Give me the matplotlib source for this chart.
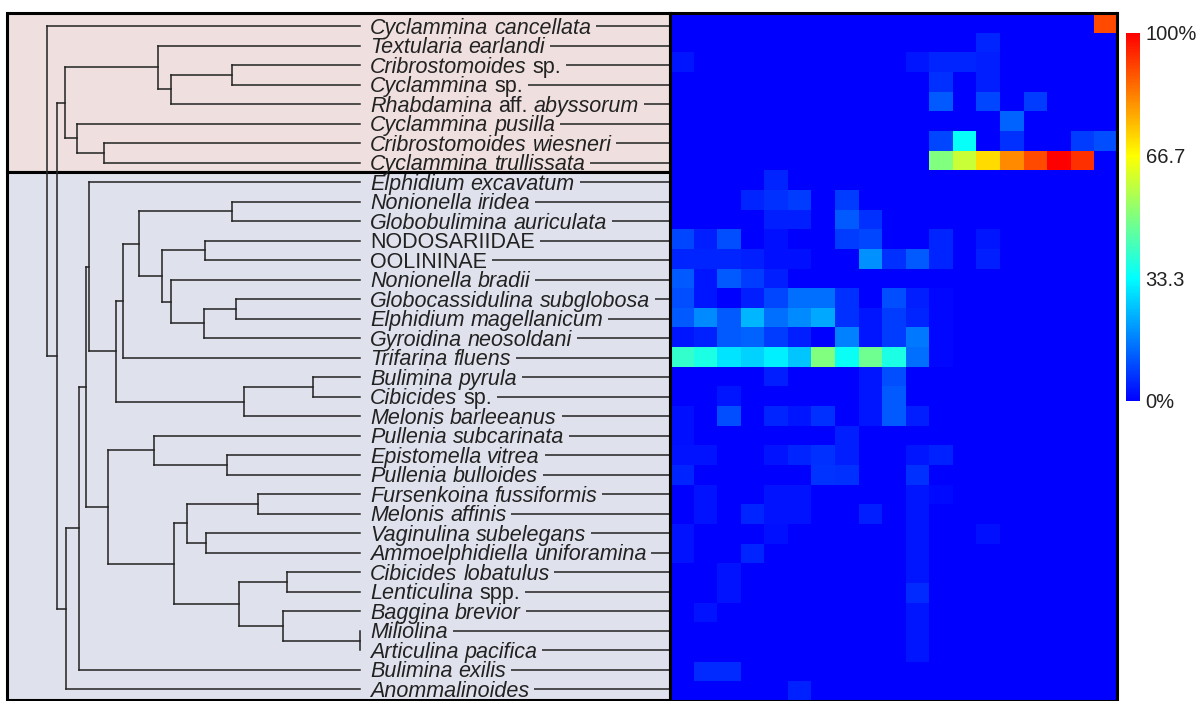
import numpy as np
import matplotlib
matplotlib.use("Agg")
import matplotlib.pyplot as plt
from matplotlib.colors import LinearSegmentedColormap
from matplotlib.collections import LineCollection
from matplotlib.patches import Rectangle
from matplotlib.transforms import offset_copy

plt.rcParams['font.family'] = ['Liberation Sans', 'DejaVu Sans']

# species in plotting order (top to bottom)
species = [
    "Cyclammina cancellata", "Textularia earlandi", "Cribrostomoides sp.",
    "Cyclammina sp.", "Rhabdamina aff. abyssorum", "Cyclammina pusilla",
    "Cribrostomoides wiesneri", "Cyclammina trullissata",
    "Elphidium excavatum", "Nonionella iridea", "Globobulimina auriculata",
    "NODOSARIIDAE", "OOLININAE", "Nonionella bradii",
    "Globocassidulina subglobosa", "Elphidium magellanicum",
    "Gyroidina neosoldani", "Trifarina fluens", "Bulimina pyrula",
    "Cibicides sp.", "Melonis barleeanus", "Pullenia subcarinata",
    "Epistomella vitrea", "Pullenia bulloides", "Fursenkoina fussiformis",
    "Melonis affinis", "Vaginulina subelegans", "Ammoelphidiella uniforamina",
    "Cibicides lobatulus", "Lenticulina spp.", "Baggina brevior",
    "Miliolina", "Articulina pacifica", "Bulimina exilis", "Anommalinoides",
]
upright_words = {"sp.", "spp.", "aff.", "NODOSARIIDAE", "OOLININAE"}
n_agglutinated = 8  # first group (pink box)

# dendrogram: (height, left, right), leaves are species names
tree = (1.000, "Cyclammina cancellata",
        (0.967,
         (0.942,
          (0.644, "Textularia earlandi",
           (0.604, (0.410, "Cribrostomoides sp.", "Cyclammina sp."),
            "Rhabdamina aff. abyssorum")),
          (0.903, "Cyclammina pusilla",
           (0.817, "Cribrostomoides wiesneri", "Cyclammina trullissata"))),
         (0.938,
          (0.899,
           (0.875,
            (0.865, "Elphidium excavatum",
             (0.780,
              (0.758,
               (0.705,
                (0.408, "Nonionella iridea", "Globobulimina auriculata"),
                (0.634,
                 (0.494, "NODOSARIIDAE", "OOLININAE"),
                 (0.605, "Nonionella bradii",
                  (0.497,
                   (0.396, "Globocassidulina subglobosa", "Elphidium magellanicum"),
                   "Gyroidina neosoldani")))),
               "Trifarina fluens"),
              (0.371, (0.149, "Bulimina pyrula", "Cibicides sp."),
               "Melonis barleeanus"))),
            (0.806,
             (0.659, "Pullenia subcarinata",
              (0.425, "Epistomella vitrea", "Pullenia bulloides")),
             (0.595,
              (0.554,
               (0.326, "Fursenkoina fussiformis", "Melonis affinis"),
               (0.493, "Vaginulina subelegans", "Ammoelphidiella uniforamina")),
              (0.387,
               (0.232, "Cibicides lobatulus", "Lenticulina spp."),
               (0.247, "Baggina brevior",
                (0.0, "Miliolina", "Articulina pacifica")))))),
           "Bulimina exilis"),
          "Anommalinoides")))

# relative abundance per species (rows) and sample (columns), 0-1
abundance = [
    [0, 0, 0, 0, 0, 0, 0, 0, 0, 0, 0, 0, 0, 0, 0, 0, 0, 0, .90],
    [0, 0, 0, 0, 0, 0, 0, 0, 0, 0, 0, 0, 0, .05, 0, 0, 0, 0, 0],
    [.03, 0, 0, 0, 0, 0, 0, 0, 0, 0, .03, .05, .05, .04, 0, 0, 0, 0, 0],
    [0, 0, 0, 0, 0, 0, 0, 0, 0, 0, 0, .065, 0, .04, 0, 0, 0, 0, 0],
    [0, 0, 0, 0, 0, 0, 0, 0, 0, 0, 0, .12, 0, .09, 0, .08, 0, 0, 0],
    [0, 0, 0, 0, 0, 0, 0, 0, 0, 0, 0, 0, 0, 0, .13, 0, 0, 0, 0],
    [0, 0, 0, 0, 0, 0, 0, 0, 0, 0, 0, .09, .34, 0, .065, 0, 0, .08, .105],
    [0, 0, 0, 0, 0, 0, 0, 0, 0, 0, 0, .50, .595, .712, .817, .902, 1.0, .935, 0],
    [0, 0, 0, 0, .05, 0, 0, 0, 0, 0, 0, 0, 0, 0, 0, 0, 0, 0, 0],
    [0, 0, 0, .05, .065, .08, 0, .08, 0, 0, 0, 0, 0, 0, 0, 0, 0, 0, 0],
    [0, 0, 0, 0, .04, .04, 0, .12, .065, 0, 0, 0, 0, 0, 0, 0, 0, 0, 0],
    [.09, .04, .105, 0, .02, 0, 0, .08, .09, 0, 0, .05, 0, .03, 0, 0, 0, 0, 0],
    [.05, .05, .05, .04, .02, .02, 0, 0, .19, .065, .12, .05, 0, .04, 0, 0, 0, 0, 0],
    [.12, .03, .12, .08, .04, 0, 0, 0, 0, 0, 0, 0, 0, 0, 0, 0, 0, 0, 0],
    [.105, .03, 0, .04, .09, .145, .145, .065, 0, .105, .04, .01, 0, 0, 0, 0, 0, 0, 0],
    [.12, .18, .12, .24, .145, .18, .22, .065, .03, .08, .05, .01, 0, 0, 0, 0, 0, 0, 0],
    [.03, .045, .12, .13, .08, .04, 0, .17, .03, .08, .16, .01, 0, 0, 0, 0, 0, 0, 0],
    [.40, .37, .30, .275, .315, .26, .50, .345, .48, .37, .145, .01, 0, 0, 0, 0, 0, 0, 0],
    [0, 0, 0, 0, .04, 0, 0, 0, .03, .105, 0, 0, 0, 0, 0, 0, 0, 0, 0],
    [0, 0, .03, 0, 0, 0, 0, 0, .03, .12, 0, 0, 0, 0, 0, 0, 0, 0, 0],
    [.02, 0, .105, 0, .05, .03, .065, 0, .03, .12, .04, 0, 0, 0, 0, 0, 0, 0, 0],
    [.02, 0, 0, 0, 0, 0, 0, .04, 0, 0, 0, 0, 0, 0, 0, 0, 0, 0, 0],
    [.025, .025, 0, 0, .025, .05, .065, .04, 0, 0, .03, .045, 0, 0, 0, 0, 0, 0, 0],
    [.05, 0, 0, 0, 0, 0, .07, .065, 0, 0, .065, 0, 0, 0, 0, 0, 0, 0, 0],
    [0, .025, 0, 0, .025, .025, 0, 0, 0, 0, .03, .015, 0, 0, 0, 0, 0, 0, 0],
    [0, .025, 0, .05, .025, .025, 0, 0, .04, 0, .03, 0, 0, 0, 0, 0, 0, 0, 0],
    [.025, 0, 0, 0, .02, 0, 0, 0, 0, 0, .03, 0, 0, .02, 0, 0, 0, 0, 0],
    [.025, 0, 0, .05, 0, 0, 0, 0, 0, 0, .03, 0, 0, 0, 0, 0, 0, 0, 0],
    [0, 0, .025, 0, 0, 0, 0, 0, 0, 0, .03, 0, 0, 0, 0, 0, 0, 0, 0],
    [0, 0, .025, 0, 0, 0, 0, 0, 0, 0, .055, 0, 0, 0, 0, 0, 0, 0, 0],
    [0, .025, 0, 0, 0, 0, 0, 0, 0, 0, .03, 0, 0, 0, 0, 0, 0, 0, 0],
    [0, 0, 0, 0, 0, 0, 0, 0, 0, 0, .03, 0, 0, 0, 0, 0, 0, 0, 0],
    [0, 0, 0, 0, 0, 0, 0, 0, 0, 0, .03, 0, 0, 0, 0, 0, 0, 0, 0],
    [0, .055, .055, 0, 0, 0, 0, 0, 0, 0, 0, 0, 0, 0, 0, 0, 0, 0, 0],
    [0, 0, 0, 0, 0, .045, 0, 0, 0, 0, 0, 0, 0, 0, 0, 0, 0, 0, 0],
]

cbar_ticks = [0, 1 / 3, 2 / 3, 1]
cbar_labels = ["0%", "33.3", "66.7", "100%"]

W, H = 1202, 701
fig = plt.figure(figsize=(W / 100, H / 100), dpi=100)


def fig_rect(left, top, right, bottom):
    return [left / W, 1 - bottom / H, (right - left) / W, (bottom - top) / H]


line_col = "#222222"

# ---- dendrogram panel ----
ax_tree = fig.add_axes(fig_rect(7, 12.7, 670, 700))
ax_tree.set_xlim((360 - 7) / 313, -(670 - 360) / 313)
ax_tree.set_ylim(34.55, -0.682)
ax_tree.axis("off")

yt = ax_tree.get_yaxis_transform()
ytop, ybot = ax_tree.get_ylim()[1], ax_tree.get_ylim()[0]
split = n_agglutinated - 0.5
ax_tree.add_patch(Rectangle((0, ytop), 1, split - ytop, transform=yt,
                            facecolor="#EFDFDF", edgecolor="black", lw=2.2,
                            clip_on=False, zorder=0))
ax_tree.add_patch(Rectangle((0, split), 1, ybot - split, transform=yt,
                            facecolor="#DFE1EC", edgecolor="black", lw=2.2,
                            clip_on=False, zorder=0))

leaf_y = {name: i for i, name in enumerate(species)}
segments = []


def walk(node):
    if isinstance(node, str):
        return leaf_y[node], 0.0
    h, a, b = node
    ya, ha = walk(a)
    yb, hb = walk(b)
    segments.append([(h, ya), (h, yb)])
    segments.append([(h, ya), (ha, ya)])
    segments.append([(h, yb), (hb, yb)])
    return (ya + yb) / 2, h


walk(tree)
ax_tree.add_collection(LineCollection(segments, colors=line_col, linewidths=1.1,
                                      capstyle="projecting", zorder=2))

fig.canvas.draw()
renderer = fig.canvas.get_renderer()
fs = 15.5
space = 0.278 * fs * fig.dpi / 72
inv = ax_tree.transData.inverted()
x_right = ax_tree.get_xlim()[1]
for i, name in enumerate(species):
    dx = 10
    for word in name.split():
        tr = offset_copy(ax_tree.transData, fig=fig, x=dx, y=-7.5, units="dots")
        t = ax_tree.text(0, i, word, transform=tr, fontsize=fs, color="#222222",
                         style="normal" if word in upright_words else "italic",
                         ha="left", va="baseline")
        dx += t.get_window_extent(renderer).width + space
    x0_disp = ax_tree.transData.transform((0, i))
    x_start = inv.transform((x0_disp[0] + dx - space + 5, x0_disp[1]))[0]
    ax_tree.plot([x_start, x_right], [i, i], color=line_col, lw=1.1,
                 solid_capstyle="butt", clip_on=False)

# ---- heatmap ----
cmap = LinearSegmentedColormap.from_list("bcyr", ["#0000FF", "#00FFFF", "#FFFF00", "#FF0000"])
ax_heat = fig.add_axes(fig_rect(670, 12.7, 1117, 700.7))
im = ax_heat.imshow(np.array(abundance), cmap=cmap, vmin=0, vmax=1,
                    aspect="auto", interpolation="nearest")
ax_heat.set_xticks([])
ax_heat.set_yticks([])
for s in ax_heat.spines.values():
    s.set_linewidth(2.2)
    s.set_color("black")

# ---- colorbar ----
cax = fig.add_axes(fig_rect(1126, 33, 1140, 401))
cb = fig.colorbar(im, cax=cax, ticks=cbar_ticks)
cb.set_ticklabels(cbar_labels)
cb.outline.set_visible(False)
cax.tick_params(length=0, labelsize=14.5, pad=4, colors="#222222")

fig.savefig("out.png", dpi=100)
